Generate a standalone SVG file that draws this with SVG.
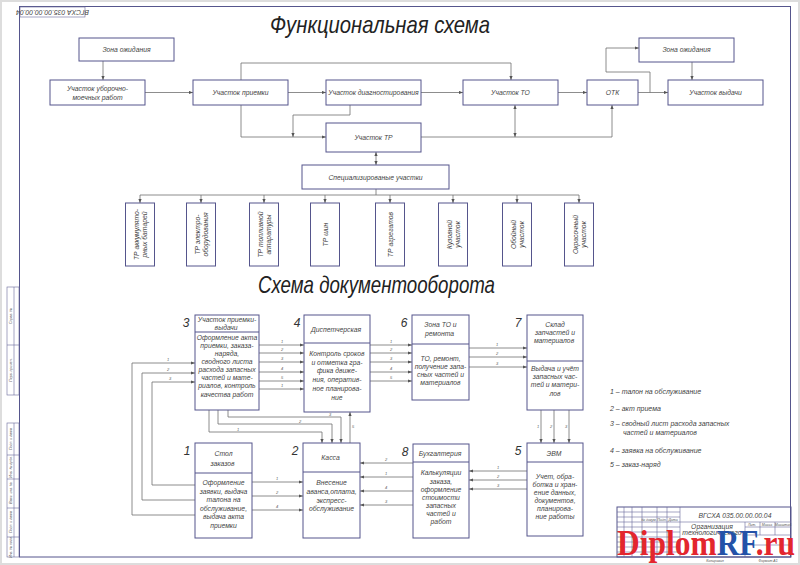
<svg xmlns="http://www.w3.org/2000/svg" width="800" height="565" viewBox="0 0 800 565">
<style>
.box{fill:#fff;stroke:#55558c;stroke-width:1}
.fr{fill:none;stroke:#55558c;stroke-width:1}
.thin{fill:none;stroke:#6a6a9a;stroke-width:0.6}
.ln{fill:none;stroke:#707070;stroke-width:0.8}
.ar{marker-end:url(#ah)}
.t{font-family:"Liberation Sans",Arial,sans-serif;font-style:italic;font-size:6.8px;fill:#444;text-anchor:middle}
.s{font-family:"Liberation Sans",Arial,sans-serif;font-style:italic;font-size:4px;fill:#666;text-anchor:middle}
.n{font-family:"Liberation Sans",Arial,sans-serif;font-style:italic;font-size:12px;fill:#333;text-anchor:middle}
.h{font-family:"Liberation Sans",Arial,sans-serif;font-style:italic;font-size:24px;fill:#222;text-anchor:start}
.lg{font-family:"Liberation Sans",Arial,sans-serif;font-style:italic;font-size:7px;fill:#444;text-anchor:start}
.tb{font-family:"Liberation Sans",Arial,sans-serif;font-style:italic;font-size:3.5px;fill:#555;text-anchor:middle}
</style>
<defs>
<marker id="ah" viewBox="0 0 10 10" refX="10" refY="5" markerUnits="userSpaceOnUse" markerWidth="5" markerHeight="4" orient="auto-start-reverse">
<path d="M0,1 L10,5 L0,9 z" fill="#555"/>
</marker>
</defs>
<rect x="0" y="0" width="800" height="565" fill="#fff"/>
<rect x="1" y="1" width="798" height="563" fill="none" stroke="#ddd" stroke-width="2"/>

<g id="frame">
<rect class="fr" x="19.5" y="6.5" width="771" height="550.5"/>
<rect class="thin" x="20" y="7" width="65" height="10"/>
<text class="t" font-size="6" transform="translate(52.5,12) rotate(180)" dy="2">ВГСХА 035.00.00.00.04</text>
<rect class="thin" x="7" y="287" width="12" height="108"/>
<line class="thin" x1="7" y1="345" x2="19" y2="345"/>
<line class="thin" x1="14" y1="287" x2="14" y2="395"/>
<rect class="thin" x="7" y="423" width="12" height="134"/>
<line class="thin" x1="14" y1="423" x2="14" y2="557"/>
<line class="thin" x1="7" y1="455" x2="19" y2="455"/>
<line class="thin" x1="7" y1="479" x2="19" y2="479"/>
<line class="thin" x1="7" y1="508" x2="19" y2="508"/>
<line class="thin" x1="7" y1="537" x2="19" y2="537"/>
<text class="tb" transform="translate(11.5,316) rotate(-90)">Справ. №</text>
<text class="tb" transform="translate(11.5,370) rotate(-90)">Перв. примен.</text>
<text class="tb" transform="translate(11.5,439) rotate(-90)">Подп. и дата</text>
<text class="tb" transform="translate(11.5,467) rotate(-90)">Инв. № дубл.</text>
<text class="tb" transform="translate(11.5,493) rotate(-90)">Взам. инв. №</text>
<text class="tb" transform="translate(11.5,522) rotate(-90)">Подп. и дата</text>
<text class="tb" transform="translate(11.5,547) rotate(-90)">Инв. № подл.</text>
</g>

<g id="titles">
<text class="h" x="270" y="33" textLength="220" lengthAdjust="spacingAndGlyphs">Функциональная схема</text>
<text class="h" x="258" y="293" textLength="237" lengthAdjust="spacingAndGlyphs">Схема документооборота</text>
</g>

<g id="connectors">
<path class="ln ar" d="M103,61 V80"/>
<path class="ln ar" d="M145,92.5 H193"/>
<path class="ln ar" d="M288,92.5 H326"/>
<path class="ln ar" d="M421,92.5 H463"/>
<path class="ln ar" d="M558,92.5 H587"/>
<path class="ln ar" d="M638,92.5 H668"/>
<path class="ln ar" d="M241,80 V63 H511 V80"/>
<path class="ln ar" d="M650,92.5 V72 H606 V48 H639"/>
<path class="ln ar" d="M692,62 V80"/>
<path class="ln ar" d="M241,105 V137 H326"/>
<path class="ln ar" d="M350,105 V115 H293 V137"/>
<path class="ln ar" d="M421,137 H612 V105"/>
<path class="ln ar" d="M515,105 V137" marker-start="url(#ah)"/>
<path class="ln ar" d="M376,152 V165" marker-start="url(#ah)"/>
<path class="ln" d="M376,189 V195 M140,195 H579"/>
<path class="ln ar" d="M140,195 V203"/>
<path class="ln ar" d="M201,195 V203"/>
<path class="ln ar" d="M264,195 V203"/>
<path class="ln ar" d="M325,195 V203"/>
<path class="ln ar" d="M390,195 V203"/>
<path class="ln ar" d="M453,195 V203"/>
<path class="ln ar" d="M517,195 V203"/>
<path class="ln ar" d="M579,195 V203"/>

<path class="ln ar" d="M259,345 H304"/>
<path class="ln ar" d="M259,353 H304"/>
<path class="ln ar" d="M259,362 H304"/>
<path class="ln ar" d="M259,372 H304"/>
<path class="ln ar" d="M259,381 H304"/>
<path class="ln ar" d="M259,389 H304"/>
<text class="s" x="282" y="343">1</text>
<text class="s" x="282" y="351">2</text>
<text class="s" x="282" y="360">3</text>
<text class="s" x="282" y="370">4</text>
<text class="s" x="282" y="379">5</text>
<text class="s" x="282" y="387">1</text>

<path class="ln ar" d="M370,345 H412"/>
<path class="ln ar" d="M370,353 H412"/>
<path class="ln ar" d="M370,362 H412"/>
<path class="ln ar" d="M370,372 H412"/>
<path class="ln ar" d="M370,381 H412"/>
<text class="s" x="391" y="343">1</text>
<text class="s" x="391" y="351">2</text>
<text class="s" x="391" y="360">3</text>
<text class="s" x="391" y="370">4</text>
<text class="s" x="391" y="379">5</text>

<path class="ln ar" d="M469,348 H527"/>
<path class="ln ar" d="M469,357 H527"/>
<path class="ln ar" d="M469,367 H527"/>
<text class="s" x="497" y="346">1</text>
<text class="s" x="497" y="355">2</text>
<text class="s" x="497" y="365">3</text>

<path class="ln ar" d="M541,410 V443"/>
<path class="ln ar" d="M554,410 V443"/>
<path class="ln ar" d="M569,410 V443"/>
<text class="s" x="538" y="428">1</text>
<text class="s" x="551" y="428">2</text>
<text class="s" x="566" y="428">3</text>

<path class="ln ar" d="M527,471 H469"/>
<path class="ln ar" d="M527,480 H469"/>
<path class="ln ar" d="M527,489 H469"/>
<text class="s" x="498" y="469">1</text>
<text class="s" x="498" y="478">2</text>
<text class="s" x="498" y="487">3</text>

<path class="ln ar" d="M413,463 H360"/>
<path class="ln ar" d="M413,477 H360"/>
<path class="ln ar" d="M413,491 H360"/>
<path class="ln ar" d="M413,505 H360"/>
<text class="s" x="386" y="461">2</text>
<text class="s" x="386" y="475">1</text>
<text class="s" x="386" y="489">4</text>
<text class="s" x="386" y="503">3</text>

<path class="ln ar" d="M252,482 H303"/>
<path class="ln ar" d="M252,496 H303"/>
<path class="ln ar" d="M252,510 H303"/>
<text class="s" x="277" y="480">1</text>
<text class="s" x="277" y="494">2</text>
<text class="s" x="277" y="508">4</text>

<path class="ln ar" d="M209,410 V432 H322 V443"/>
<path class="ln ar" d="M218,410 V424 H332 V443"/>
<path class="ln ar" d="M228,410 V417 H341 V443"/>
<path class="ln ar" d="M350,443 V412"/>
<text class="s" x="238" y="430.5">1</text>
<text class="s" x="300" y="422.5">2</text>
<text class="s" x="330" y="415.5">3</text>
<text class="s" x="353" y="428">5</text>

<path class="ln ar" d="M195,485 H152 V382 H195"/>
<path class="ln ar" d="M195,500 H142 V373 H195"/>
<path class="ln ar" d="M195,515 H132 V363 H195"/>
<text class="s" x="168" y="361">1</text>
<text class="s" x="168" y="371">2</text>
<text class="s" x="170" y="380">3</text>
</g>

<g id="n-zona1"><rect class="box" x="79" y="38" width="95" height="23"/><text class="t" x="126.5" y="52">Зона ожидания</text></g>
<g id="n-uborka"><rect class="box" x="50" y="80" width="95" height="25"/><text class="t" x="97.5" y="91">Участок уборочно-</text><text class="t" x="97.5" y="100">моечных работ</text></g>
<g id="n-priemka"><rect class="box" x="193" y="80" width="95" height="25"/><text class="t" x="240.5" y="95">Участок приемки</text></g>
<g id="n-diag"><rect class="box" x="326" y="80" width="95" height="25"/><text class="t" x="373.5" y="95">Участок диагностирования</text></g>
<g id="n-to"><rect class="box" x="463" y="80" width="95" height="25"/><text class="t" x="510.5" y="95">Участок ТО</text></g>
<g id="n-otk"><rect class="box" x="587" y="80" width="51" height="25"/><text class="t" x="612.5" y="95">ОТК</text></g>
<g id="n-zona2"><rect class="box" x="639" y="38" width="95" height="24"/><text class="t" x="686.5" y="52">Зона ожидания</text></g>
<g id="n-vydacha"><rect class="box" x="668" y="80" width="95" height="25"/><text class="t" x="715.5" y="95">Участок выдачи</text></g>
<g id="n-tr"><rect class="box" x="326" y="123" width="95" height="29"/><text class="t" x="373.5" y="140">Участок ТР</text></g>
<g id="n-spec"><rect class="box" x="302" y="165" width="147" height="24"/><text class="t" x="375.5" y="180">Специализированые участки</text></g>

<g id="n-s1"><rect class="box" x="125.5" y="203" width="29" height="63"/><text class="t" transform="translate(140,234.5) rotate(-90)"><tspan x="0" y="-1.5">ТР аккумулято-</tspan><tspan x="0" y="7">рных батарей</tspan></text></g>
<g id="n-s2"><rect class="box" x="186.5" y="203" width="29" height="63"/><text class="t" transform="translate(201,234.5) rotate(-90)"><tspan x="0" y="-1.5">ТР электро-</tspan><tspan x="0" y="7">оборудования</tspan></text></g>
<g id="n-s3"><rect class="box" x="249.5" y="203" width="29" height="63"/><text class="t" transform="translate(264,234.5) rotate(-90)"><tspan x="0" y="-1.5">ТР топливной</tspan><tspan x="0" y="7">аппаратуры</tspan></text></g>
<g id="n-s4"><rect class="box" x="310.5" y="203" width="29" height="63"/><text class="t" transform="translate(325,234.5) rotate(-90)"><tspan x="0" y="2.5">ТР шин</tspan></text></g>
<g id="n-s5"><rect class="box" x="375.5" y="203" width="29" height="63"/><text class="t" transform="translate(390,234.5) rotate(-90)"><tspan x="0" y="2.5">ТР агрегатов</tspan></text></g>
<g id="n-s6"><rect class="box" x="438.5" y="203" width="29" height="63"/><text class="t" transform="translate(453,234.5) rotate(-90)"><tspan x="0" y="-1.5">Кузовной</tspan><tspan x="0" y="7">участок</tspan></text></g>
<g id="n-s7"><rect class="box" x="502.5" y="203" width="29" height="63"/><text class="t" transform="translate(517,234.5) rotate(-90)"><tspan x="0" y="-1.5">Обойный</tspan><tspan x="0" y="7">участок</tspan></text></g>
<g id="n-s8"><rect class="box" x="564.5" y="203" width="29" height="63"/><text class="t" transform="translate(579,234.5) rotate(-90)"><tspan x="0" y="-1.5">Окрасочный</tspan><tspan x="0" y="7">участок</tspan></text></g>

<g id="d3">
<rect class="box" x="195" y="315" width="64" height="95"/><line class="fr" x1="195" y1="332" x2="259" y2="332"/>
<text class="n" x="186" y="327">3</text>
<text class="t"><tspan x="227" y="322">Участок приемки-</tspan><tspan x="227" y="330">выдачи</tspan>
<tspan x="227" y="340">Оформление акта</tspan><tspan x="227" y="348">приемки, заказа-</tspan><tspan x="227" y="356">наряда,</tspan><tspan x="227" y="364">сводного листа</tspan><tspan x="227" y="372">расхода запасных</tspan><tspan x="227" y="380">частей и мате-</tspan><tspan x="227" y="388">риалов, контроль</tspan><tspan x="227" y="397">качества работ</tspan></text>
</g>
<g id="d4">
<rect class="box" x="304" y="315" width="66" height="97"/><line class="fr" x1="304" y1="343" x2="370" y2="343"/>
<text class="n" x="297" y="327">4</text>
<text class="t"><tspan x="337" y="332">Диспетчерская</tspan>
<tspan x="337" y="356">Контроль сроков</tspan><tspan x="337" y="365">и отметка гра-</tspan><tspan x="337" y="373">фика движе-</tspan><tspan x="337" y="382">ния, оператив-</tspan><tspan x="337" y="391">ное планирова-</tspan><tspan x="337" y="400">ние</tspan></text>
</g>
<g id="d6">
<rect class="box" x="412" y="315" width="57" height="85"/><line class="fr" x1="412" y1="344" x2="469" y2="344"/>
<text class="n" x="404" y="327">6</text>
<text class="t"><tspan x="440.5" y="327">Зона ТО и</tspan><tspan x="440.5" y="336">ремонта</tspan>
<tspan x="440.5" y="361">ТО, ремонт,</tspan><tspan x="440.5" y="369">получение запа-</tspan><tspan x="440.5" y="377">сных частей и</tspan><tspan x="440.5" y="385">материалов</tspan></text>
</g>
<g id="d7">
<rect class="box" x="527" y="315" width="56" height="95"/><line class="fr" x1="527" y1="361" x2="583" y2="361"/>
<text class="n" x="518" y="327">7</text>
<text class="t"><tspan x="555" y="327">Склад</tspan><tspan x="555" y="335">запчастей и</tspan><tspan x="555" y="343">материалов</tspan>
<tspan x="555" y="371">Выдача и учёт</tspan><tspan x="555" y="379">запасных час-</tspan><tspan x="555" y="387">тей и матери-</tspan><tspan x="555" y="396">лов</tspan></text>
</g>
<g id="d1">
<rect class="box" x="195" y="443" width="57" height="95"/><line class="fr" x1="195" y1="473" x2="252" y2="473"/>
<text class="n" x="187" y="455">1</text>
<text class="t"><tspan x="223.5" y="456">Стол</tspan><tspan x="223.5" y="466">заказов</tspan>
<tspan x="223.5" y="485">Оформление</tspan><tspan x="223.5" y="494">заявки, выдача</tspan><tspan x="223.5" y="502">талона на</tspan><tspan x="223.5" y="511">обслуживание,</tspan><tspan x="223.5" y="519">выдача акта</tspan><tspan x="223.5" y="528">приемки</tspan></text>
</g>
<g id="d2">
<rect class="box" x="303" y="443" width="57" height="95"/><line class="fr" x1="303" y1="472" x2="360" y2="472"/>
<text class="n" x="295" y="455">2</text>
<text class="t"><tspan x="331.5" y="460">Касса</tspan>
<tspan x="331.5" y="485">Внесение</tspan><tspan x="331.5" y="494">аванса,оплата,</tspan><tspan x="331.5" y="503">экспресс-</tspan><tspan x="331.5" y="511">обслуживание</tspan></text>
</g>
<g id="d8">
<rect class="box" x="413" y="444" width="56" height="94"/><line class="fr" x1="413" y1="462" x2="469" y2="462"/>
<text class="n" x="405" y="456">8</text>
<text class="t"><tspan x="441" y="456">Бухгалтерия</tspan>
<tspan x="441" y="475">Калькуляции</tspan><tspan x="441" y="484">заказа,</tspan><tspan x="441" y="492">оформление</tspan><tspan x="441" y="500">стоимости</tspan><tspan x="441" y="508">запасных</tspan><tspan x="441" y="516">частей и</tspan><tspan x="441" y="524">работ</tspan></text>
</g>
<g id="d5">
<rect class="box" x="527" y="443" width="56" height="93"/><line class="fr" x1="527" y1="462" x2="583" y2="462"/>
<text class="n" x="518" y="455">5</text>
<text class="t"><tspan x="555" y="456">ЭВМ</tspan>
<tspan x="555" y="479">Учет, обра-</tspan><tspan x="555" y="487">ботка и хран-</tspan><tspan x="555" y="495">ение данных,</tspan><tspan x="555" y="503">документов,</tspan><tspan x="555" y="511">планирова-</tspan><tspan x="555" y="519">ние работы</tspan></text>
</g>

<g id="legend">
<text class="lg" x="610" y="394">1 – талон на обслуживание</text>
<text class="lg" x="610" y="411">2 – акт приема</text>
<text class="lg" x="610" y="426">3 – сводный лист расхода запасных</text>
<text class="lg" x="623" y="435">частей и материалов</text>
<text class="lg" x="610" y="453">4 – заявка на обслуживание</text>
<text class="lg" x="610" y="467">5 – заказ-наряд</text>
</g>

<g id="titleblock">
<rect class="fr" x="617" y="507" width="174" height="50"/>
<line class="thin" x1="680" y1="507" x2="680" y2="557"/>
<line class="thin" x1="624" y1="507" x2="624" y2="557"/>
<line class="thin" x1="632" y1="507" x2="632" y2="557"/>
<line class="thin" x1="642" y1="507" x2="642" y2="557"/>
<line class="thin" x1="657" y1="507" x2="657" y2="557"/>
<line class="thin" x1="667" y1="507" x2="667" y2="557"/>
<line class="thin" x1="617" y1="512" x2="680" y2="512"/>
<line class="thin" x1="617" y1="517" x2="680" y2="517"/>
<line class="thin" x1="617" y1="522" x2="791" y2="522"/>
<line class="thin" x1="617" y1="527" x2="680" y2="527"/>
<line class="thin" x1="617" y1="532" x2="680" y2="532"/>
<line class="thin" x1="617" y1="537" x2="680" y2="537"/>
<line class="thin" x1="617" y1="542" x2="680" y2="542"/>
<line class="thin" x1="617" y1="547" x2="680" y2="547"/>
<line class="thin" x1="617" y1="552" x2="680" y2="552"/>
<line class="thin" x1="745" y1="522" x2="745" y2="557"/>
<line class="thin" x1="745" y1="527" x2="791" y2="527"/>
<line class="thin" x1="745" y1="535" x2="791" y2="535"/>
<line class="thin" x1="760" y1="522" x2="760" y2="535"/>
<line class="thin" x1="775" y1="522" x2="775" y2="535"/>
<line class="thin" x1="745" y1="545" x2="791" y2="545"/>
<text class="t" font-size="9" x="735" y="518">ВГСХА 035.00.00.00.04</text>
<text class="t" font-size="5" x="712" y="529">Организация</text>
<text class="t" font-size="5" x="712" y="535">технологического</text>
<text class="tb" x="752" y="526">Лит.</text>
<text class="tb" x="767" y="526">Масса</text>
<text class="tb" x="783" y="526">Масштаб</text>
<text class="tb" x="649" y="521">№ докум.</text>
<text class="tb" x="662" y="521">Подп.</text>
<text class="tb" x="673" y="521">Дата</text>
<text class="tb" x="715" y="562">Копировал</text>
<text class="tb" x="768" y="562">Формат А1</text>
</g>

<g id="watermark">
<text x="617" y="555" font-family="'Liberation Serif','Times New Roman',serif" font-weight="bold" font-size="36" textLength="178" lengthAdjust="spacingAndGlyphs"><tspan fill="#e3262e">Diplom</tspan><tspan fill="#2452a8">RF</tspan><tspan fill="#e3262e">.ru</tspan></text>
</g>
</svg>
